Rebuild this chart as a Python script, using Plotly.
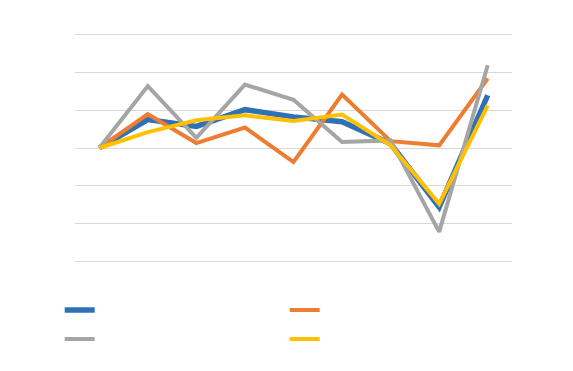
import plotly.graph_objects as go

categories = ["1", "2", "3", "4", "5", "6", "7", "8", "9"]
blue = [0, 0.75, 0.57, 1.01, 0.82, 0.69, 0.11, -1.56, 1.39]
orange = [0, 0.89, 0.13, 0.54, -0.37, 1.41, 0.18, 0.07, 1.83]
gray = [0, 1.63, 0.27, 1.67, 1.27, 0.16, 0.20, -2.21, 2.18]
yellow = [0, 0.42, 0.73, 0.86, 0.71, 0.88, 0.07, -1.47, 1.12]

series = [
    (" ", blue, "#3070B5", 5.5),
    (" ", orange, "#ED7D31", 4),
    (" ", gray, "#A5A5A5", 4),
    (" ", yellow, "#FFC000", 4),
]

fig = go.Figure()
for name, vals, color, w in series:
    fig.add_trace(go.Scatter(x=categories, y=vals, mode="lines", name=name,
                             line=dict(color=color, width=w)))

fig.update_layout(
    width=573, height=371,
    margin=dict(l=75, r=61, t=33, b=108, autoexpand=False),
    paper_bgcolor="white", plot_bgcolor="white",
    showlegend=True,
    legend=dict(orientation="h", x=-0.035, xanchor="left", y=-0.12, yanchor="top",
                entrywidth=180, entrywidthmode="pixels", font=dict(size=20),
                bgcolor="rgba(0,0,0,0)"),
    xaxis=dict(showticklabels=False, showgrid=False, zeroline=False, showline=False,
               range=[-0.5, 8.5]),
    yaxis=dict(range=[-3.03, 3.03], tickvals=[-3, -2, -1, 0, 1, 2, 3],
               showticklabels=False, gridcolor="#D9D9D9",
               gridwidth=1, zeroline=False, showline=False),
)
fig.write_html("out.html")
